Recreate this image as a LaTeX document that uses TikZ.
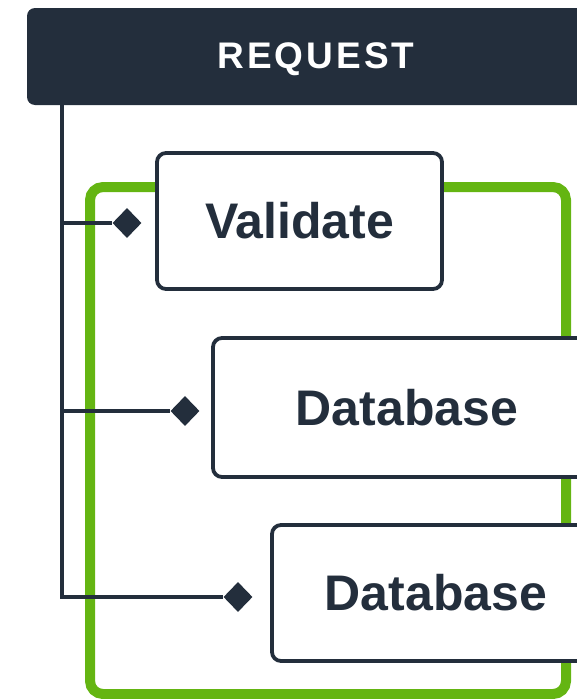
\documentclass[tikz,border=0pt]{standalone}
\usepackage{fontspec}
\setmainfont{Liberation Sans}
\usetikzlibrary{shapes.geometric}
\definecolor{ink}{HTML}{232E3C}
\definecolor{leaf}{HTML}{64B512}
\begin{document}
\begin{tikzpicture}[x=1pt,y=-1pt,
  hdr/.style={fill=ink, draw=none, rounded corners=8pt},
  stepbox/.style={draw=ink, line width=3.8pt, fill=white, rounded corners=9pt,
    font=\bfseries\fontsize{50}{54}\selectfont, text=ink, inner sep=0pt},
  conn/.style={draw=ink, line width=4pt},
  tip/.style={diamond, fill=ink, draw=none, minimum width=29pt, minimum height=30pt, inner sep=0pt},
  frame/.style={draw=leaf, line width=10pt, rounded corners=13pt}]
\useasboundingbox (0,0) rectangle (577,699);
\clip (0,0) rectangle (577,699);
% header
\fill[hdr] (27,8) rectangle (640,105);
\node[text=white, font=\bfseries\fontsize{37}{40}\selectfont\addfontfeatures{LetterSpace=8}] (req) at (316,59) {REQUEST};
% green group frame
\draw[frame] (90,187) rectangle (566,694);
% diamonds
\node[tip] (d1) at (127,223) {};
\node[tip] (d2) at (185,411) {};
\node[tip] (d3) at (238,597) {};
% connectors
\coordinate (t0) at (62,105);
\draw[conn] (t0) |- (d3.west);
\draw[conn] (t0 |- d1) -- (d1.west);
\draw[conn] (t0 |- d2) -- (d2.west);
% boxes
\node[stepbox, minimum width=285pt, minimum height=136pt] (b1) at (299.5,221) {Validate};
\node[stepbox, minimum width=388pt, minimum height=139pt] (b2) at (407,407.5) {Database};
\node[stepbox, minimum width=328pt, minimum height=136pt] (b3) at (436,593) {Database};
\end{tikzpicture}
\end{document}
